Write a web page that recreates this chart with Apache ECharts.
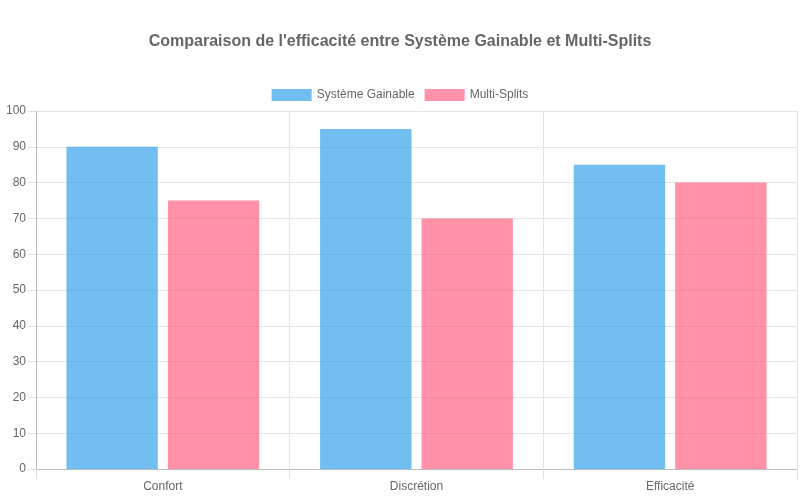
<!DOCTYPE html>
<html>
<head>
<meta charset="utf-8">
<script src="https://cdn.jsdelivr.net/npm/echarts@6/dist/echarts.min.js"></script>
<style>
	html, body { margin: 0; padding: 0; background: #fff; }
	#chart-area { width: 800px; height: 500px; }
</style>
</head>
<body>
<div id="chart-area"></div>
<script>
var categories = ['Confort', 'Discrétion', 'Efficacité'];
var gainable = [90, 95, 85];
var multiSplits = [75, 70, 80];
var seriesNames = ['Système Gainable', 'Multi-Splits'];

var font = '"Liberation Sans", Arial, Helvetica, sans-serif';
var myChart = echarts.init(document.getElementById('chart-area'));
var option = {
	animation: false,
	textStyle: { fontFamily: font },
	title: {
		text: "Comparaison de l'efficacité entre Système Gainable et Multi-Splits",
		left: 'center',
		top: 29,
		textStyle: { fontSize: 16, fontWeight: 'bold', color: '#666', fontFamily: font }
	},
	legend: {
		top: 84,
		left: 'center',
		itemWidth: 40,
		itemHeight: 12,
		itemGap: 10,
		icon: 'rect',
		itemStyle: { borderWidth: 0 },
		textStyle: { fontSize: 12, color: '#666', fontFamily: font },
		data: seriesNames
	},
	grid: { left: 36, right: 3, top: 111, bottom: 31, containLabel: false },
	xAxis: {
		type: 'category',
		data: categories,
		axisLine: { show: true, lineStyle: { color: '#bbb' } },
		axisTick: { show: true, length: 10, alignWithLabel: false, lineStyle: { color: '#e0e0e0' } },
		splitLine: { show: true, lineStyle: { color: '#e5e5e5' } },
		axisLabel: { color: '#666', fontSize: 12, margin: 12, fontFamily: font }
	},
	yAxis: {
		type: 'value',
		min: 0,
		max: 100,
		interval: 10,
		axisLine: { show: true, lineStyle: { color: '#bbb' } },
		axisTick: { show: true, length: 8, lineStyle: { color: '#e0e0e0' } },
		splitLine: { show: true, lineStyle: { color: '#e5e5e5' } },
		axisLabel: { color: '#666', fontSize: 12, margin: 10, fontFamily: font }
	},
	series: [
		{
			name: seriesNames[0],
			type: 'bar',
			data: gainable,
			barGap: '11%',
			barCategoryGap: '24%',
			itemStyle: { color: 'rgba(54,162,235,0.7)' }
		},
		{
			name: seriesNames[1],
			type: 'bar',
			data: multiSplits,
			barGap: '11%',
			barCategoryGap: '24%',
			itemStyle: { color: 'rgba(255,99,132,0.7)' }
		}
	]
};
myChart.setOption(option);
</script>
</body>
</html>
